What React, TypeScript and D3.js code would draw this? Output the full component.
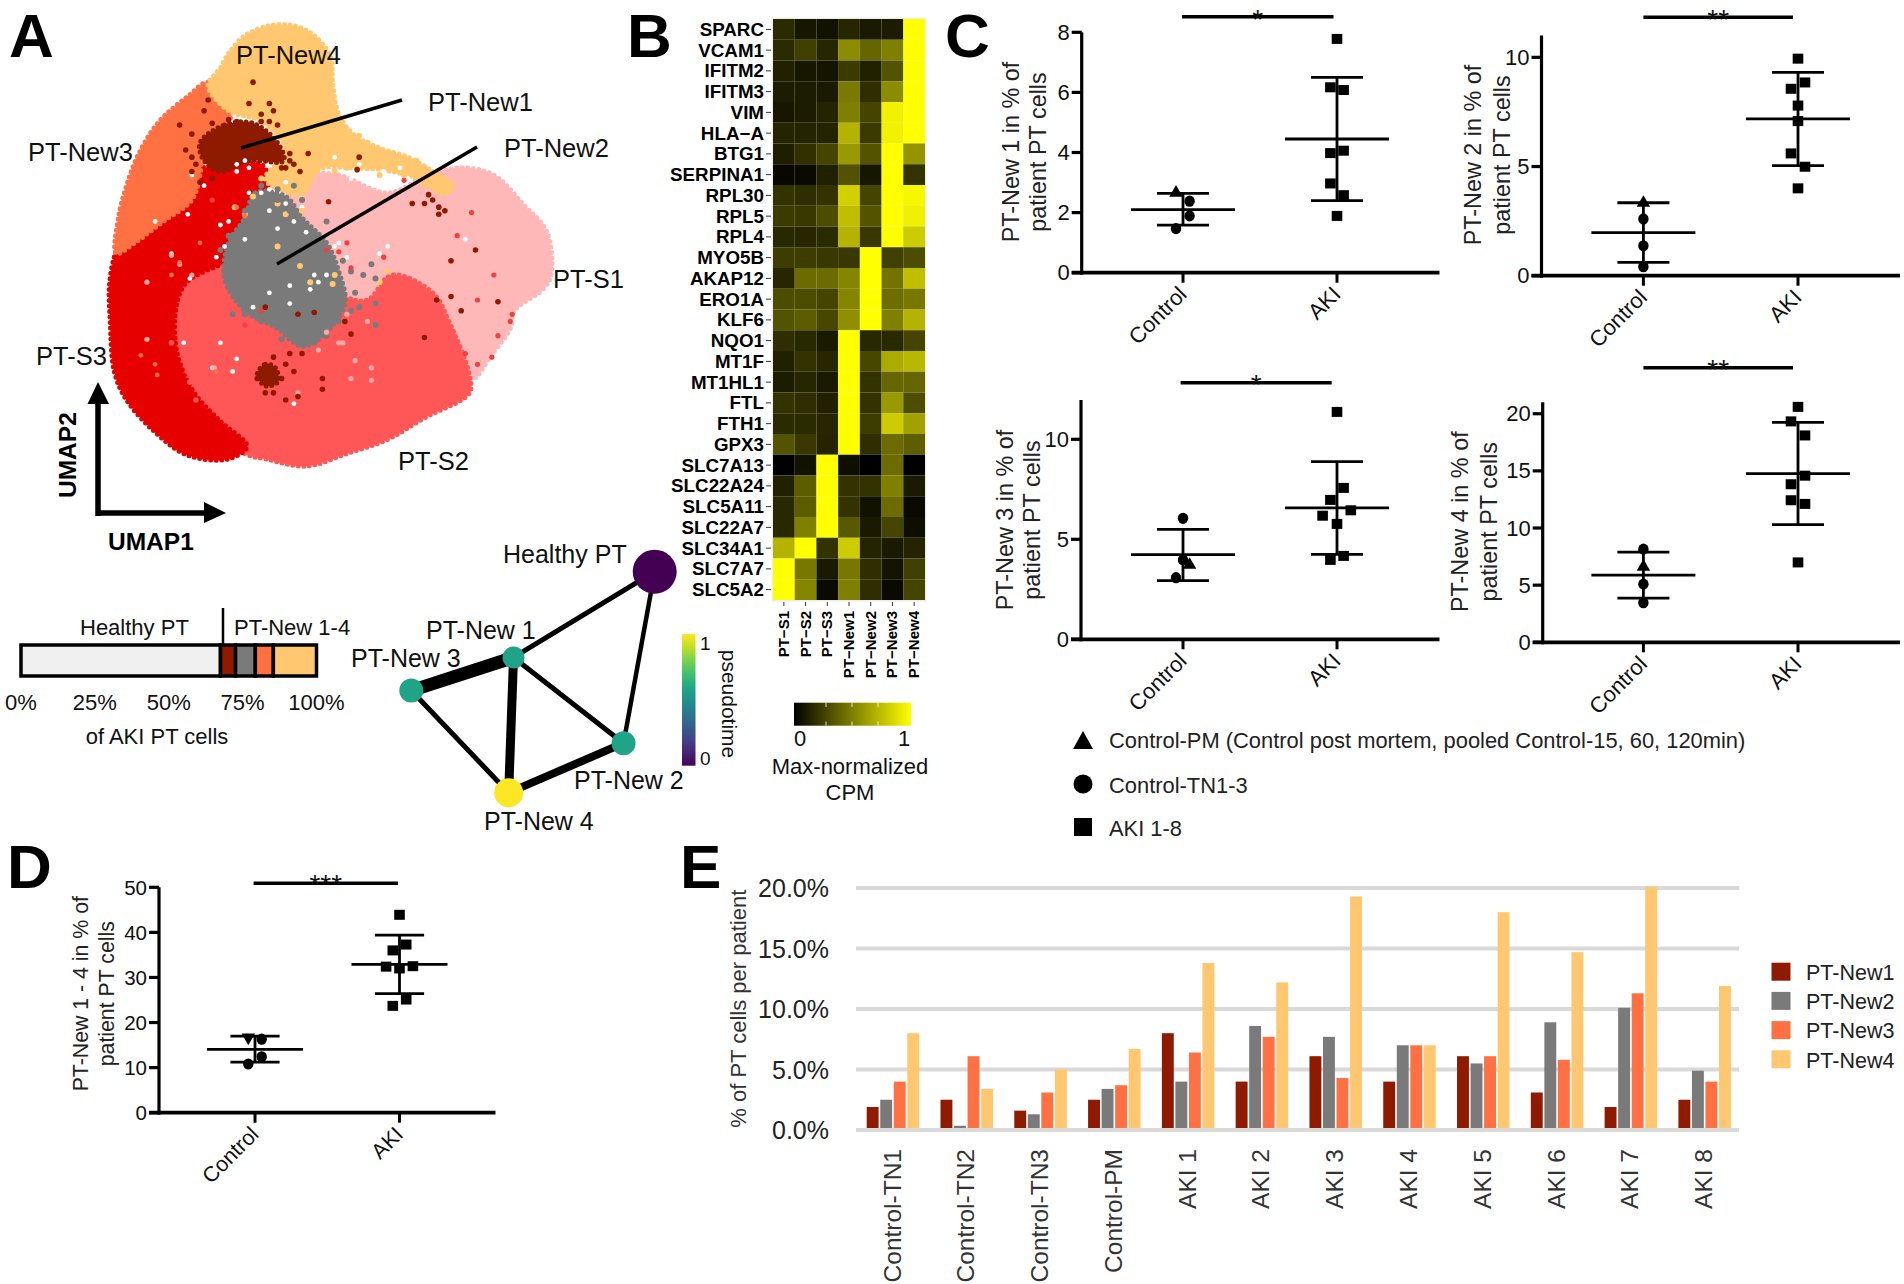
import React from "react";
import * as d3 from "d3";

const FONT = "'Liberation Sans', Arial, sans-serif";

// ---------- Panel A: UMAP regions and scattered cells (UMAP-plot units) ----------
const umapS1 = [[760,490],[830,490],[950,540],[1050,490],[1130,470],[1210,490],[1280,570],[1340,650],[1350,770],[1330,810],[1260,870],[1250,920],[1200,1000],[1160,1060],[1130,1040],[1080,900],[960,860],[800,860],[700,750],[670,640],[710,540]];
const umapS2 = [[470,760],[560,700],[700,750],[840,830],[900,840],[960,770],[1060,820],[1100,900],[1150,1050],[1150,1100],[1040,1170],[950,1230],[850,1270],[750,1305],[650,1285],[600,1270],[520,1180],[450,1050],[420,950]];
const umapS3 = [[300,670],[280,720],[268,800],[270,900],[280,1040],[310,1120],[380,1210],[460,1275],[560,1285],[605,1250],[540,1180],[470,1090],[430,960],[450,800],[570,720],[630,630],[660,520],[640,460],[560,470],[450,480],[440,580],[370,620]];
const umapNew3 = [[510,230],[570,270],[560,340],[500,390],[490,490],[470,560],[400,620],[330,680],[285,710],[290,610],[310,520],[340,430],[390,340],[460,270]];
const umapNew4 = [[540,190],[560,150],[600,100],[660,72],[720,72],[770,100],[810,160],[815,230],[830,320],[870,380],[930,415],[1000,440],[1060,480],[1110,520],[1085,545],[1040,510],[960,480],[860,470],[780,475],[745,540],[700,540],[650,500],[700,420],[640,340],[560,310],[510,240]];
const umapGrey = [[560,680],[600,610],[625,540],[700,550],[740,610],[800,680],[830,760],[845,850],[790,940],[740,970],[680,920],[600,870],[550,780]];
const umapDark1 = [[490,400],[550,350],[620,345],[680,400],[695,450],[610,450],[540,480],[500,450]];
const umapDark2 = [[630,1050],[650,1020],[675,1030],[680,1070],[650,1080]];

const dotsNew4 = [[880,380],[900,400],[930,420],[960,430],[990,440],[1020,450],[1040,470],[1060,490],[1085,510],[1100,530],[1060,520],[1040,520],[900,470],[930,490],[960,470],[990,490],[1010,470],[830,430],[800,450],[850,470],[820,480],[720,540],[680,570],[740,590],[600,290],[570,260],[550,230],[590,215],[630,205],[650,235],[540,245],[700,350],[720,300],[690,300],[670,240],[680,690],[735,745],[760,790],[820,770],[815,795],[950,760],[930,790],[640,500],[680,500],[620,550],[600,600],[700,600],[575,580],[770,480]];
const dotsDark = [[440,350],[500,310],[520,345],[470,375],[455,420],[470,480],[490,510],[510,280],[610,290],[660,290],[670,310],[640,320],[680,350],[620,230],[710,430],[720,460],[735,480],[755,430],[880,440],[875,475],[805,565],[1050,545],[1060,560],[1075,580],[1075,600],[1040,570],[1010,570],[1090,590],[1105,730],[1165,700],[1105,830],[1130,870],[1220,845],[1070,840],[1040,945],[650,860],[730,880],[770,875],[845,900],[860,935],[670,1000],[710,990],[740,990],[700,1120],[730,1110],[790,1090],[690,1060],[790,1060],[470,440],[480,460],[700,470],[710,450],[690,470],[640,340],[660,340],[560,335],[580,340],[520,500],[650,1100],[670,1100],[630,1060],[720,1040],[700,1020]];
const dotsGrey = [[620,580],[650,570],[680,560],[710,590],[740,560],[600,590],[640,600],[690,615],[730,610],[760,640],[780,660],[560,660],[540,700],[840,730],[860,760],[890,770],[910,740],[920,780],[870,820],[880,860],[920,850],[860,870],[920,910],[830,900],[770,960],[800,940],[740,960],[690,950],[640,900],[600,880],[570,880],[800,620],[640,520],[680,530],[720,520]];
const dotsRed = [[1155,595],[1210,770],[1170,840],[1120,660],[990,505],[1205,1000],[1255,880],[1250,900],[1220,940],[1170,1020],[1140,990],[830,705],[850,680],[860,750],[940,720],[800,700],[520,560],[640,870],[600,910]];
const dotsPink = [[910,1030],[910,1065],[870,1010],[730,1100],[840,960],[780,980],[470,770],[420,715],[360,790],[360,950],[860,1060],[525,1030],[440,740],[830,960],[800,930],[850,880],[900,900]];
const dotsOrange = [[380,550],[420,770],[345,995],[380,1020],[385,1050],[440,735],[530,1040],[580,580],[600,605],[490,680]];
const dotsSalmon = [[500,1110],[480,1120],[460,1040],[520,1080],[420,960],[465,1070]];
const gapsWhite = [[530,720],[560,620],[540,630],[600,670],[680,640],[720,620],[750,650],[830,680],[850,720],[820,690],[770,770],[800,770],[710,800],[660,820],[620,860],[710,850],[540,960],[580,1005],[520,1030],[570,1040],[450,960],[460,600],[380,620],[500,520],[470,490],[580,480],[610,470],[640,540],[660,530],[700,510],[930,710],[950,690],[550,690],[420,710],[465,780],[720,1130],[1140,670],[940,480],[1000,500],[1060,520],[820,440],[860,500],[610,540],[700,570],[660,590],[740,580],[880,460],[980,470],[580,460],[600,450],[760,810],[780,790]];

// ---------- Stacked bar ----------
const stackShares = [67.5, 5.1, 6.7, 6.1, 14.6];
const stackTicks = ["0%", "25%", "50%", "75%", "100%"];

// ---------- Graph ----------
const graphNodes = ["Healthy PT", "PT-New 1", "PT-New 3", "PT-New 2", "PT-New 4"];
const graphPseudotime = [0, 0.58, 0.58, 0.58, 1];
const graphEdges: [string, string, number][] = [
  ["PT-New 1", "PT-New 3", 13], ["PT-New 1", "PT-New 4", 9], ["PT-New 2", "PT-New 4", 8],
  ["PT-New 3", "PT-New 4", 5], ["PT-New 1", "PT-New 2", 5], ["PT-New 1", "Healthy PT", 5], ["PT-New 2", "Healthy PT", 4.5],
];

// ---------- Panel B ----------
const heatGenes = ["SPARC","VCAM1","IFITM2","IFITM3","VIM","HLA−A","BTG1","SERPINA1","RPL30","RPL5","RPL4","MYO5B","AKAP12","ERO1A","KLF6","NQO1","MT1F","MT1HL1","FTL","FTH1","GPX3","SLC7A13","SLC22A24","SLC5A11","SLC22A7","SLC34A1","SLC7A7","SLC5A2"];
const heatClusters = ["PT−S1","PT−S2","PT−S3","PT−New1","PT−New2","PT−New3","PT−New4"];
const heatValues = [
  [.17,.09,.07,.15,.1,.11,1],[.17,.25,.15,.55,.4,.5,1],[.13,.09,.08,.23,.13,.33,1],[.11,.11,.1,.48,.18,.55,1],
  [.09,.11,.14,.5,.27,.95,1],[.14,.14,.14,.7,.23,.95,1],[.12,.19,.27,.6,.33,1,.58],[.03,.04,.13,.32,.09,1,.2],
  [.2,.18,.2,.82,.27,1,.97],[.23,.22,.3,.75,.33,1,.94],[.16,.15,.17,.7,.22,1,.8],[.24,.24,.22,.22,1,.25,.3],
  [.15,.42,.42,.52,1,.45,.75],[.3,.3,.27,.52,1,.43,.47],[.33,.36,.28,.56,1,.5,.7],[.18,.16,.1,1,.16,.16,.27],
  [.13,.2,.15,1,.28,.67,.72],[.11,.15,.1,1,.2,.4,.4],[.2,.18,.13,1,.2,.6,.3],[.17,.17,.15,1,.24,.8,.63],
  [.33,.22,.14,1,.18,.42,.37],[0,.07,1,.06,0,.42,0],[.13,.36,1,.2,.2,.5,.1],[.16,.36,1,.2,.07,.42,.04],
  [.16,.5,1,.35,.1,.27,.05],[.7,1,.2,.8,.14,.1,.14],[1,.47,.1,.47,.18,.08,.25],[1,.52,.04,.5,.18,.04,.27],
];

// ---------- Panels C, D: values ----------
const groupNames = ["Control", "AKI"];
const c1Control = [2.66, 2.38, 1.89, 1.47];
const c1Aki = [7.78, 6.17, 6.08, 4.06, 3.98, 2.97, 2.58, 1.89];
const c1Stats = [[2.1, 2.64, 1.58], [4.45, 6.5, 2.4]];
const c2Control = [3.33, 2.6, 1.37, 0.41];
const c2Aki = [9.94, 8.85, 8.56, 7.79, 7.08, 5.6, 4.99, 4.0];
const c2Stats = [[1.97, 3.34, 0.61], [7.18, 9.31, 5.04]];
const c3Control = [3.72, 6.05, 3.97, 3.08];
const c3Aki = [11.37, 7.57, 6.97, 6.45, 6.18, 5.77, 4.17, 3.97];
const c3Stats = [[4.23, 5.5, 2.93], [6.57, 8.88, 4.25]];
const c4Control = [6.6, 8.15, 5.09, 3.46];
const c4Aki = [20.6, 19.33, 18.1, 14.58, 13.83, 12.43, 12.11, 6.99];
const c4Stats = [[5.88, 7.89, 3.87], [14.76, 19.24, 10.3]];
const dControl = [16.7, 16.3, 12.4, 10.8];
const dAki = [43.9, 37.3, 36, 32.4, 32.5, 32, 25.1, 23.7];
const dStats = [[14.05, 17, 11.24], [32.9, 39.4, 26.4]];

// ---------- Panel E ----------
const eSamples = ["Control-TN1","Control-TN2","Control-TN3","Control-PM","AKI 1","AKI 2","AKI 3","AKI 4","AKI 5","AKI 6","AKI 7","AKI 8"];
const eSeriesNames = ["PT-New1","PT-New2","PT-New3","PT-New4"];
const eNew1 = [1.9,2.5,1.6,2.5,8,4,6.1,4,6.1,3.1,1.9,2.5];
const eNew2 = [2.5,0.35,1.3,3.4,4,8.6,7.7,7,5.5,8.9,10.1,4.9];
const eNew3 = [4,6.1,3.1,3.7,6.4,7.7,4.3,7,6.1,5.8,11.3,4];
const eNew4 = [8,3.4,5,6.7,13.8,12.2,19.3,7,18,14.7,20.1,11.9];
const eTicks = [0, 5, 10, 15, 20];

const C_NEW1 = "#8e1a00", C_NEW2 = "#7a7a7a", C_NEW3 = "#ff7043", C_NEW4 = "#ffc870";
const C_S1 = "#ffb8b8", C_S2 = "#ff5757", C_S3 = "#e60000";

type TProps = { x: number; y: number; size: number; anchor?: string; weight?: any; rot?: number; fill?: string; children: any };
function T({ x, y, size, anchor = "start", weight = "normal", rot, fill = "#111", children }: TProps) {
  return (
    <text x={x} y={y} fontSize={size} textAnchor={anchor} fontWeight={weight}
      fill={fill} transform={rot ? `rotate(${rot} ${x} ${y})` : undefined}>{children}</text>
  );
}

function PanelA() {
  const sx = d3.scaleLinear().domain([0, 1568]).range([0, 640]);
  const sy = d3.scaleLinear().domain([0, 1568]).range([0, 560]);
  const blob = d3.line<number[]>().x(d => sx(d[0])).y(d => sy(d[1])).curve(d3.curveCatmullRomClosed.alpha(0.5));
  const regions: [number[][], string][] = [
    [umapS1, C_S1], [umapS2, C_S2], [umapS3, C_S3], [umapNew3, C_NEW3], [umapNew4, C_NEW4], [umapGrey, C_NEW2], [umapDark1, C_NEW1], [umapDark2, C_NEW1],
  ];
  const dots: [number[][], string, number][] = [
    [gapsWhite, "#fff", 2.4], [dotsNew4, C_NEW4, 3], [dotsGrey, C_NEW2, 3], [dotsRed, "#f04040", 2.6], [dotsPink, "#ffa8a8", 2.6],
    [dotsOrange, C_NEW3, 2.4], [dotsSalmon, "#ff5757", 2.8], [dotsDark, C_NEW1, 2.8],
  ];
  return (
    <g>
      {regions.map(([pts, c], i) => (
        <path key={i} d={blob(pts) as string} fill={c} stroke={c} strokeWidth={5} strokeDasharray="0 5.5" strokeLinecap="round" />
      ))}
      {dots.map(([pts, c, r], i) => (
        <g key={i} fill={c}>{pts.map((p, j) => <circle key={j} cx={sx(p[0])} cy={sy(p[1])} r={r} />)}</g>
      ))}
      <T x={236} y={63.5} size={25.5}>PT-New4</T>
      <T x={428} y={110.5} size={25.5}>PT-New1</T>
      <T x={504} y={157} size={25.5}>PT-New2</T>
      <T x={28} y={161} size={25.5}>PT-New3</T>
      <T x={553} y={287.5} size={25.5}>PT-S1</T>
      <T x={36} y={365} size={25.5}>PT-S3</T>
      <T x={398} y={470} size={25.5}>PT-S2</T>
      <line x1={241} y1={148} x2={402} y2={100} stroke="#000" strokeWidth={3.5} />
      <line x1={277} y1={264} x2={477} y2={147} stroke="#000" strokeWidth={3.5} />
      <path d="M98 516V400M95.5 513H206" fill="none" stroke="#000" strokeWidth={5.5} />
      <path d="M87.5 404L98 382L109 404Z M204 502L226 513L204 523Z" fill="#000" />
      <T x={75.5} y={498} size={24.5} weight="bold" rot={-90} fill="#000">UMAP2</T>
      <T x={108} y={550} size={24.5} weight="bold" fill="#000">UMAP1</T>
    </g>
  );
}

function StackBar() {
  const x = d3.scaleLinear().domain([0, 100]).range([21, 316.5]);
  const cols = ["#f0f0f0", C_NEW1, C_NEW2, C_NEW3, C_NEW4];
  let acc = 0;
  const segs = stackShares.map((v, i) => { const s = { a: acc, b: acc + v, c: cols[i] }; acc += v; return s; });
  return (
    <g>
      {segs.map((s, i) => (
        <rect key={i} x={x(s.a)} y={645} width={x(s.b) - x(s.a)} height={31} fill={s.c} stroke="#000" strokeWidth={3.5} />
      ))}
      <line x1={223} y1={608} x2={223} y2={645} stroke="#000" strokeWidth={2.5} />
      <T x={80} y={635} size={22}>Healthy PT</T>
      <T x={234} y={635} size={22}>PT-New 1-4</T>
      {stackTicks.map((t, i) => <T key={t} x={x(i * 25)} y={710} size={22} anchor="middle">{t}</T>)}
      <T x={157} y={744} size={22} anchor="middle">of AKI PT cells</T>
    </g>
  );
}

function GraphPanel() {
  const px = d3.scaleLinear().domain([0, 1]).range([411.3, 654.7]);
  const py = d3.scaleLinear().domain([0, 1]).range([792.7, 571.7]);
  const coords: Record<string, number[]> = {
    "Healthy PT": [1, 1], "PT-New 1": [0.42, 0.612], "PT-New 3": [0, 0.462], "PT-New 2": [0.872, 0.224], "PT-New 4": [0.4, 0],
  };
  const radii: Record<string, number> = { "Healthy PT": 22, "PT-New 1": 11, "PT-New 3": 12, "PT-New 2": 12, "PT-New 4": 14.5 };
  const cbar = d3.scaleLinear().domain([0, 1]).range([765.7, 634]);
  return (
    <g>
      {graphEdges.map(([a, b, w], i) => (
        <line key={i} x1={px(coords[a][0])} y1={py(coords[a][1])} x2={px(coords[b][0])} y2={py(coords[b][1])} stroke="#000" strokeWidth={w} />
      ))}
      {graphNodes.map((n, i) => (
        <circle key={n} cx={px(coords[n][0])} cy={py(coords[n][1])} r={radii[n]} fill={d3.interpolateViridis(graphPseudotime[i])} />
      ))}
      <T x={503} y={563} size={25}>Healthy PT</T>
      <T x={426} y={639} size={25}>PT-New 1</T>
      <T x={351} y={667} size={25}>PT-New 3</T>
      <T x={574} y={789} size={25}>PT-New 2</T>
      <T x={484} y={830} size={25}>PT-New 4</T>
      <rect x={682} y={cbar(1)} width={13.5} height={cbar(0) - cbar(1)} fill="url(#viridisGrad)" />
      <T x={700} y={650} size={19}>1</T>
      <T x={700} y={765} size={19}>0</T>
      <T x={722} y={704} size={21} rot={90} anchor="middle">pseudotime</T>
    </g>
  );
}

function PanelB() {
  const x = d3.scaleBand().domain(heatClusters).range([773, 925]);
  const y = d3.scaleBand().domain(heatGenes).range([19, 600]);
  const color = d3.scaleLinear<string>().domain([0, 1]).range(["#000000", "#ffff00"]);
  const cb = d3.scaleLinear().domain([0, 1]).range([800, 904]);
  return (
    <g>
      <rect x={771.5} y={17.5} width={155} height={584} fill="#eee" />
      {heatValues.map((row, i) => row.map((v, j) => (
        <rect key={`${i}-${j}`} x={x(heatClusters[j])} y={y(heatGenes[i])} width={x.bandwidth()} height={y.bandwidth()} fill={color(v)} />
      )))}
      {heatGenes.map(g => {
        const yc = (y(g) as number) + y.bandwidth() / 2;
        return (
          <g key={g}>
            <line x1={766} x2={771} y1={yc} y2={yc} stroke="#333" strokeWidth={1} />
            <T x={764} y={yc + 6.6} size={18.8} anchor="end" weight="bold" fill="#000">{g}</T>
          </g>
        );
      })}
      {heatClusters.map(c => {
        const xc = (x(c) as number) + x.bandwidth() / 2;
        return (
          <g key={c}>
            <line x1={xc} x2={xc} y1={602} y2={606} stroke="#333" strokeWidth={1} />
            <T x={xc + 5} y={611} size={15} anchor="end" weight="bold" rot={-90} fill="#000">{c}</T>
          </g>
        );
      })}
      <rect x={794} y={702.7} width={117} height={23} fill="url(#heatGrad)" />
      {[0.25, 0.5, 0.75].map(t => (
        <g key={t} stroke="#fff" strokeWidth={0.8}>
          <line x1={cb(t)} x2={cb(t)} y1={702.7} y2={707} />
          <line x1={cb(t)} x2={cb(t)} y1={721.5} y2={725.7} />
        </g>
      ))}
      <T x={cb(0)} y={746} size={22} anchor="middle">0</T>
      <T x={cb(1)} y={746} size={22} anchor="middle">1</T>
      <T x={850} y={774} size={22} anchor="middle">Max-normalized</T>
      <T x={850} y={800} size={22} anchor="middle">CPM</T>
    </g>
  );
}

type DotCfg = {
  axisX: number; y0: number; yTop: number; max: number; ticks: number[]; xEnd: number; xs: number[];
  control: number[]; aki: number[]; stats: number[][]; controlDx: number[]; akiDx: number[]; controlMarks: string[];
  sig: string; sigX: number[]; sigY: number; sigTextY: number; labels: string[]; labelX: number[]; labelCy: number;
  tickSize?: number; capMean?: number; capSd?: number; catSize?: number; labelSize?: number;
};

function DotPanel({ c }: { c: DotCfg }) {
  const y = d3.scaleLinear().domain([0, c.max]).range([c.y0, c.yTop]);
  const sym = (t: any, s: number) => d3.symbol().type(t).size(s)() as string;
  const capMean = c.capMean ?? 52, capSd = c.capSd ?? 26;
  const mark = (m: string, px: number, py: number, k: number) => {
    if (m === "tri") return <path key={k} d={sym(d3.symbolTriangle, 78)} transform={`translate(${px},${py})`} />;
    if (m === "down") return <path key={k} d={sym(d3.symbolTriangle, 78)} transform={`translate(${px},${py}) rotate(180)`} />;
    if (m === "cir") return <ellipse key={k} cx={px} cy={py} rx={5.2} ry={5.6} />;
    return <rect key={k} x={px - 5.3} y={py - 5} width={10.6} height={10} />;
  };
  const series = [c.control, c.aki];
  const dxs = [c.controlDx, c.akiDx];
  const tickSize = c.tickSize ?? 22, catSize = c.catSize ?? 22, labelSize = c.labelSize ?? 23.4;
  return (
    <g>
      <line x1={c.axisX} x2={c.axisX} y1={c.yTop} y2={c.y0 + 2} stroke="#000" strokeWidth={3.2} />
      <line x1={c.axisX - 10} x2={c.xEnd} y1={c.y0} y2={c.y0} stroke="#000" strokeWidth={3.8} />
      {c.ticks.map(t => (
        <g key={t}>
          <line x1={c.axisX - 10} x2={c.axisX} y1={y(t)} y2={y(t)} stroke="#000" strokeWidth={3.2} />
          <T x={c.axisX - 12} y={y(t) + 7.5} size={tickSize} anchor="end">{t}</T>
        </g>
      ))}
      {c.xs.map((xv, i) => (
        <g key={i}>
          <line x1={xv} x2={xv} y1={c.y0} y2={c.y0 + 10} stroke="#000" strokeWidth={3} />
          <T x={xv + 5} y={c.y0 + 23} size={catSize} anchor="end" rot={-45}>{groupNames[i]}</T>
          <g stroke="#000" strokeWidth={2.8}>
            <line x1={xv} x2={xv} y1={y(c.stats[i][1])} y2={y(c.stats[i][2])} />
            <line x1={xv - capMean} x2={xv + capMean} y1={y(c.stats[i][0])} y2={y(c.stats[i][0])} />
            <line x1={xv - capSd} x2={xv + capSd} y1={y(c.stats[i][1])} y2={y(c.stats[i][1])} />
            <line x1={xv - capSd} x2={xv + capSd} y1={y(c.stats[i][2])} y2={y(c.stats[i][2])} />
          </g>
          <g fill="#000">
            {series[i].map((v, k) => mark(i === 0 ? c.controlMarks[k] : "sq", xv + dxs[i][k], y(v), k))}
          </g>
        </g>
      ))}
      <line x1={c.sigX[0]} x2={c.sigX[1]} y1={c.sigY} y2={c.sigY} stroke="#000" strokeWidth={3.6} />
      <T x={(c.sigX[0] + c.sigX[1]) / 2} y={c.sigTextY} size={28} anchor="middle">{c.sig}</T>
      {c.labels.map((l, i) => (
        <T key={i} x={c.labelX[i]} y={c.labelCy} size={labelSize} anchor="middle" rot={-90} fill="#222">{l}</T>
      ))}
    </g>
  );
}

function PanelE() {
  const x = d3.scaleBand().domain(eSamples).range([856, 1741.5]);
  const inner = d3.scaleBand().domain(eSeriesNames).range([0, 52.5]).paddingInner(0.12);
  const y = d3.scaleLinear().domain([0, 20]).range([1130, 888]);
  const series = [eNew1, eNew2, eNew3, eNew4];
  const cols = [C_NEW1, C_NEW2, C_NEW3, C_NEW4];
  return (
    <g>
      {eTicks.map(t => (
        <g key={t}>
          <line x1={856} x2={1739} y1={y(t)} y2={y(t)} stroke="#d9d9d9" strokeWidth={4} />
          <T x={829} y={y(t) + 9} size={25} anchor="end" fill="#222">{d3.format(".1f")(t) + "%"}</T>
        </g>
      ))}
      {series.map((vals, s) => vals.map((v, i) => (
        <rect key={`${s}-${i}`} x={(x(eSamples[i]) as number) + 10.7 + (inner(eSeriesNames[s]) as number)} y={y(v)}
          width={inner.bandwidth()} height={y(0) - y(v) - 2} fill={cols[s]} />
      )))}
      {eSamples.map(n => (
        <T key={n} x={(x(n) as number) + 37 + 7.5} y={1149} size={24.5} anchor="end" rot={-90} fill="#333">{n}</T>
      ))}
      <T x={746.5} y={1008.7} size={22} anchor="middle" rot={-90} fill="#333">% of PT cells per patient</T>
      {eSeriesNames.map((n, i) => (
        <g key={n}>
          <rect x={1771.5} y={962.7 + i * 29.2} width={19} height={18} fill={cols[i]} />
          <T x={1806} y={980 + i * 29.2} size={21.5} fill="#222">{n}</T>
        </g>
      ))}
    </g>
  );
}

function Legend() {
  return (
    <g fill="#000">
      <path d="M1073 749L1083 731L1093 749Z" />
      <circle cx={1083} cy={784} r={9.5} />
      <rect x={1074} y={818} width={18} height={18} />
      <T x={1109} y={748} size={21.9} fill="#222">Control-PM (Control post mortem, pooled Control-15, 60, 120min)</T>
      <T x={1109} y={793} size={21.9} fill="#222">Control-TN1-3</T>
      <T x={1109} y={836} size={21.9} fill="#222">AKI 1-8</T>
    </g>
  );
}

const DX_AKI_A = [0, -6.6, 6.6, 6.6, -6.6, -6.6, 6.6, 0];
const cfgC1: DotCfg = { axisX: 1081.7, y0: 272.7, yTop: 32.3, max: 8, ticks: [0, 2, 4, 6, 8], xEnd: 1439.5, xs: [1183, 1337], control: c1Control, aki: c1Aki, stats: c1Stats, controlDx: [-7, 6.6, 6.6, -7], akiDx: DX_AKI_A, controlMarks: ["tri", "cir", "cir", "cir"], sig: "*", sigX: [1182, 1333.5], sigY: 16.7, sigTextY: 28.5, labels: ["PT-New 1 in % of", "patient PT cells"], labelX: [1018.5, 1045.5], labelCy: 152 };
const cfgC2: DotCfg = { axisX: 1541.5, y0: 275.7, yTop: 35.5, max: 11, ticks: [0, 5, 10], xEnd: 1900, xs: [1643.4, 1798], control: c2Control, aki: c2Aki, stats: c2Stats, controlDx: [0, 0, 0, 0], akiDx: [0, 7, -7, 0, 0, -7, 7, 0], controlMarks: ["tri", "cir", "cir", "cir"], sig: "**", sigX: [1643.4, 1793], sigY: 17.3, sigTextY: 28.5, labels: ["PT-New 2 in % of", "patient PT cells"], labelX: [1481, 1509.5], labelCy: 155 };
const cfgC3: DotCfg = { axisX: 1081, y0: 639.3, yTop: 400, max: 11.965, ticks: [0, 5, 10], xEnd: 1439.5, xs: [1183, 1337], control: c3Control, aki: c3Aki, stats: c3Stats, controlDx: [6.6, 0, 0, -7], akiDx: [0, 6.6, -6.6, 13.8, -14.4, 0, 6.6, -6.6], controlMarks: ["tri", "cir", "cir", "cir"], sig: "*", sigX: [1180.6, 1331.7], sigY: 382.7, sigTextY: 394, labels: ["PT-New 3 in % of", "patient PT cells"], labelX: [1012.5, 1039.5], labelCy: 520 };
const cfgC4: DotCfg = { axisX: 1542.7, y0: 642.3, yTop: 402.3, max: 21, ticks: [0, 5, 10, 15, 20], xEnd: 1900, xs: [1643.4, 1798], control: c4Control, aki: c4Aki, stats: c4Stats, controlDx: [0, 0, 0, 0], akiDx: [0, -7, 7, 7, -7, -7, 7, 0], controlMarks: ["tri", "cir", "cir", "cir"], sig: "**", sigX: [1643.4, 1793], sigY: 367.7, sigTextY: 378.5, labels: ["PT-New 4 in % of", "patient PT cells"], labelX: [1468.4, 1496.6], labelCy: 521.7 };
const cfgD: DotCfg = { axisX: 159, y0: 1112.7, yTop: 887.3, max: 50, ticks: [0, 10, 20, 30, 40, 50], xEnd: 495.5, xs: [255, 399.5], control: dControl, aki: dAki, stats: dStats, controlDx: [-6.7, 6.7, 6.7, -6.7], akiDx: [0, 6.7, -6.7, -13.4, 13.4, 0, 6.7, -6.7], controlMarks: ["down", "cir", "cir", "cir"], sig: "***", sigX: [253.6, 398], sigY: 883.3, sigTextY: 894, labels: ["PT-New 1 - 4 in % of", "patient PT cells"], labelX: [88, 114], labelCy: 993.7, tickSize: 20.5, capMean: 48, capSd: 24.6, catSize: 21.5, labelSize: 21.3 };

export default function App() {
  return (
    <svg width={1904} height={1284} viewBox="0 0 1904 1284" fontFamily={FONT}
      style={{ position: "absolute", left: 0, top: 0, display: "block", background: "#fff" }}>
      <defs>
        <linearGradient id="viridisGrad" x1="0" y1="1" x2="0" y2="0">
          {d3.range(0, 1.01, 0.1).map(t => <stop key={t} offset={t} stopColor={d3.interpolateViridis(t)} />)}
        </linearGradient>
        <linearGradient id="heatGrad" x1="0" y1="0" x2="1" y2="0">
          <stop offset="0" stopColor="#000" />
          <stop offset="1" stopColor="#ffff00" />
        </linearGradient>
      </defs>
      <T x={9} y={57} size={62} weight="bold" fill="#000">A</T>
      <T x={627} y={57} size={62} weight="bold" fill="#000">B</T>
      <T x={945} y={57} size={62} weight="bold" fill="#000">C</T>
      <T x={7} y={888} size={62} weight="bold" fill="#000">D</T>
      <T x={680} y={888} size={62} weight="bold" fill="#000">E</T>
      <PanelA />
      <StackBar />
      <GraphPanel />
      <PanelB />
      <DotPanel c={cfgC1} />
      <DotPanel c={cfgC2} />
      <DotPanel c={cfgC3} />
      <DotPanel c={cfgC4} />
      <Legend />
      <DotPanel c={cfgD} />
      <PanelE />
    </svg>
  );
}
